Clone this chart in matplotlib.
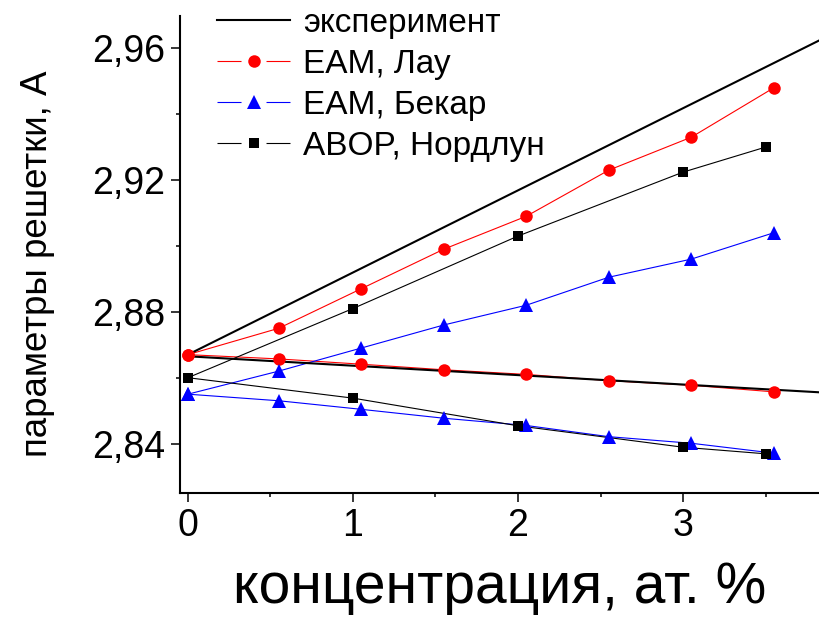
import matplotlib
matplotlib.use("Agg")
import matplotlib.pyplot as plt
import numpy as np
from matplotlib.lines import Line2D
from matplotlib.ticker import MultipleLocator, FuncFormatter

plt.rcParams['font.family'] = ['Liberation Sans', 'DejaVu Sans']
plt.rcParams['lines.scale_dashes'] = False

# эксперимент (две прямые)
x_exp = [0, 3.85]
y_exp_up = [2.867, 2.963]
y_exp_down = [2.8665, 2.8555]

# EAM, Лау
x_lau = [0, 0.55, 1.05, 1.55, 2.05, 2.55, 3.05, 3.55]
y_lau_up = [2.867, 2.875, 2.887, 2.899, 2.909, 2.923, 2.933, 2.948]
y_lau_down = [2.867, 2.8657, 2.8641, 2.8624, 2.8610, 2.8591, 2.8577, 2.8557]

# EAM, Бекар
x_bek = [0, 0.55, 1.05, 1.55, 2.05, 2.55, 3.05, 3.55]
y_bek_up = [2.855, 2.862, 2.869, 2.876, 2.882, 2.8905, 2.896, 2.904]
y_bek_down = [2.855, 2.853, 2.8504, 2.8477, 2.8455, 2.8421, 2.8401, 2.8371]

# ABOP, Нордлун
x_nord = [0, 1, 2, 3, 3.5]
y_nord_up = [2.860, 2.881, 2.903, 2.9224, 2.930]
y_nord_down = [2.860, 2.8538, 2.8454, 2.8389, 2.8369]

labels = ["эксперимент", "EAM, Лау", "EAM, Бекар", "ABOP, Нордлун"]

fig = plt.figure(figsize=(8.2, 6.19), dpi=100)
ax = fig.add_axes([180 / 820, 1 - 493 / 619, 1 - 180 / 820, (493 - 16) / 619])

# экспериментальные прямые
ax.plot(x_exp, y_exp_up, color="black", lw=1.5, zorder=3)
ax.plot(x_exp, y_exp_down, color="black", lw=1.5, zorder=3)

# расчётные кривые
for y in (y_lau_up, y_lau_down):
    ax.plot(x_lau, y, color="red", lw=0.8, zorder=2)
    ax.plot(x_lau, y, ls="none", color="red", marker="o", ms=9, mew=0, zorder=4)
for y in (y_bek_up, y_bek_down):
    ax.plot(x_bek, y, color="blue", lw=0.8, zorder=2)
    ax.plot(x_bek, y, ls="none", color="blue", marker="^", ms=10, mew=0, zorder=4)
for y in (y_nord_up, y_nord_down):
    ax.plot(x_nord, y, color="black", lw=0.8, zorder=2)
    ax.plot(x_nord, y, ls="none", color="black", marker="s", ms=7.8, mew=0, zorder=4)

ax.set_xlim(-0.048, 3.83)
ax.set_ylim(2.825, 2.9698)

ax.spines["top"].set_visible(False)
ax.spines["right"].set_visible(False)
ax.spines["left"].set_linewidth(1.5)
ax.spines["bottom"].set_linewidth(1.5)

ax.xaxis.set_major_locator(MultipleLocator(1))
ax.xaxis.set_minor_locator(MultipleLocator(0.5))
ax.yaxis.set_major_locator(MultipleLocator(0.04))
ax.yaxis.set_minor_locator(MultipleLocator(0.02))
ax.yaxis.set_major_formatter(FuncFormatter(lambda v, p: f"{v:.2f}".replace(".", ",")))
ax.xaxis.set_major_formatter(FuncFormatter(lambda v, p: f"{v:.0f}"))

ax.tick_params(which="major", direction="out", length=6.5, width=1.1, labelsize=27, pad=4)
ax.tick_params(which="minor", direction="out", length=3.2, width=1.1)

ax.set_xlabel("концентрация, ат. %", fontsize=41)
ax.set_ylabel("параметры решетки, А", fontsize=26.5)
ax.xaxis.set_label_coords(0.5, -0.143)
ax.yaxis.set_label_coords(-0.195, 0.48)

# легенда: линия с разрывом вокруг маркера
gap = (0, (17.3, 18, 17.3, 100))
handles = [
    Line2D([], [], color="black", lw=1.5),
    Line2D([], [], color="red", lw=0.8, ls=gap, marker="o", ms=9, mew=0),
    Line2D([], [], color="blue", lw=0.8, ls=gap, marker="^", ms=10, mew=0),
    Line2D([], [], color="black", lw=0.8, ls=gap, marker="s", ms=7.8, mew=0),
]
fig.legend(handles, labels, loc="upper left", bbox_to_anchor=(217 / 820, 1 - 8 / 619),
           bbox_transform=fig.transFigure, frameon=False, fontsize=24,
           handlelength=2.2, handletextpad=0.37, labelspacing=0.3,
           borderpad=0, borderaxespad=0, numpoints=1)

fig.savefig("out.png", dpi=100)
